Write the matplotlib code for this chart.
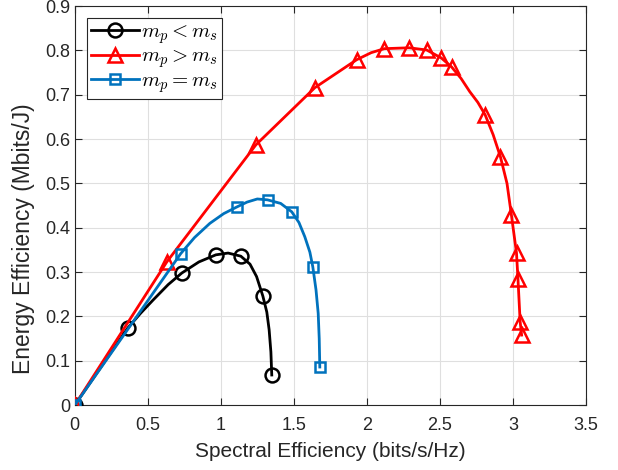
import matplotlib
matplotlib.use("Agg")
import matplotlib.pyplot as plt

plt.rcParams['font.family'] = ['Liberation Sans', 'DejaVu Sans']
plt.rcParams['mathtext.fontset'] = 'cm'

# curve points (markers + a few points between them)
se_less = [0, 0.363, 0.45, 0.536, 0.64, 0.733, 0.85, 0.966, 1.05, 1.137, 1.2, 1.245,
           1.288, 1.315, 1.331, 1.343, 1.349]
ee_less = [0, 0.174, 0.207, 0.237, 0.272, 0.298, 0.323, 0.339, 0.343, 0.336, 0.318,
           0.290, 0.246, 0.210, 0.170, 0.120, 0.068]
mk_less = [0, 1, 5, 7, 9, 12, 16]

se_more = [0, 0.63, 1.24, 1.644, 1.93, 2.03, 2.12, 2.29, 2.41, 2.51, 2.58, 2.645,
           2.705, 2.76, 2.81, 2.865, 2.915, 2.96, 2.99, 3.025, 3.035, 3.05, 3.06]
ee_more = [0, 0.323, 0.587, 0.716, 0.779, 0.795, 0.804, 0.806, 0.801, 0.783, 0.763,
           0.737, 0.707, 0.683, 0.655, 0.610, 0.560, 0.500, 0.429, 0.343, 0.285,
           0.188, 0.158]
mk_more = [0, 1, 2, 3, 4, 6, 7, 8, 9, 10, 14, 16, 18, 19, 20, 21, 22]

se_eq = [0, 0.726, 0.82, 0.925, 1.02, 1.11, 1.18, 1.25, 1.32, 1.41, 1.486, 1.535,
         1.575, 1.61, 1.63, 1.652, 1.667, 1.674, 1.678]
ee_eq = [0, 0.342, 0.378, 0.410, 0.432, 0.447, 0.458, 0.465, 0.463, 0.455, 0.436,
         0.412, 0.380, 0.345, 0.312, 0.260, 0.207, 0.150, 0.086]
mk_eq = [0, 1, 5, 8, 10, 14, 18]

fig = plt.figure(figsize=(6.18, 4.70), dpi=100)
ax = fig.add_axes([0.121, 0.138, 0.827, 0.849])

ax.plot(se_less, ee_less, color='black', lw=2, marker='o', markevery=mk_less,
        ms=10, mfc='none', mew=1.8, label=r'$m_p < m_s$', zorder=3)
ax.plot(se_more, ee_more, color='red', lw=2, marker='^', markevery=mk_more,
        ms=10, mfc='none', mew=1.8, label=r'$m_p > m_s$', zorder=3)
ax.plot(se_eq, ee_eq, color='#0072BD', lw=2, marker='s', markevery=mk_eq,
        ms=7, mfc='none', mew=1.8, label=r'$m_p = m_s$', zorder=3)

ax.set_xlim(0, 3.5)
ax.set_ylim(0, 0.9)
ax.set_xticks([0, 0.5, 1, 1.5, 2, 2.5, 3, 3.5])
ax.set_xticklabels(['0', '0.5', '1', '1.5', '2', '2.5', '3', '3.5'])
ax.set_yticks([0, 0.1, 0.2, 0.3, 0.4, 0.5, 0.6, 0.7, 0.8, 0.9])
ax.set_yticklabels(['0', '0.1', '0.2', '0.3', '0.4', '0.5', '0.6', '0.7', '0.8', '0.9'])
ax.grid(True, color='#dfdfdf', lw=0.8)
ax.set_axisbelow(True)
for s in ax.spines.values():
    s.set_color('#262626')
    s.set_linewidth(0.8)
ax.tick_params(direction='in', top=True, right=True, labelsize=13,
               colors='#262626', length=5)
ax.tick_params(axis='x', pad=8.5)
ax.set_xlabel('Spectral Efficiency (bits/s/Hz)', fontsize=15, color='#262626')
ax.set_ylabel('Energy Efficiency (Mbits/J)', fontsize=16.5, color='#262626')
ax.xaxis.set_label_coords(0.5, -0.093)
ax.yaxis.set_label_coords(-0.077, 0.418)

leg = ax.legend(loc='upper left', bbox_to_anchor=(0.023, 0.97), fontsize=15,
                fancybox=False, edgecolor='#262626', framealpha=1,
                borderpad=0.2, labelspacing=0.05, handlelength=2.3,
                handletextpad=0.1, borderaxespad=0)
leg.get_frame().set_linewidth(0.8)

fig.savefig('out.png', dpi=100)
